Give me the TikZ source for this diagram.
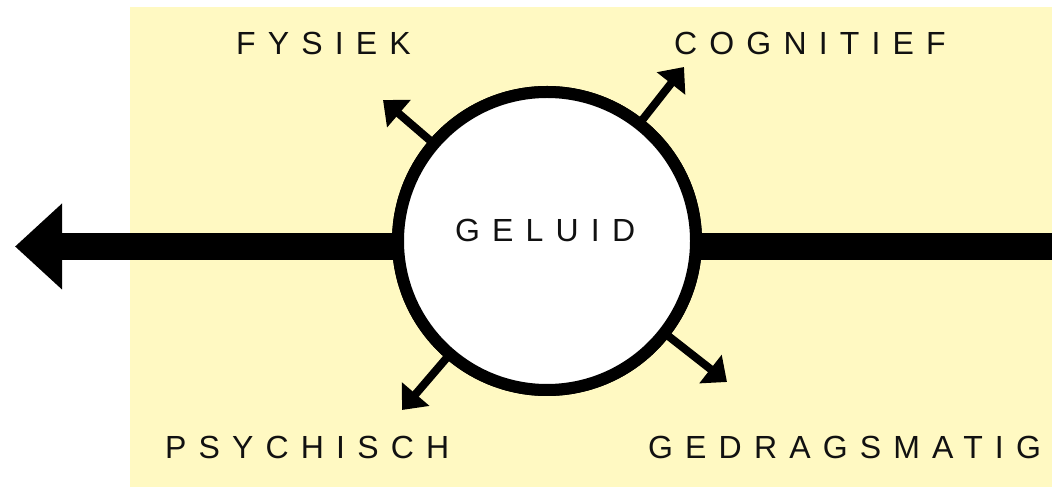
\documentclass[tikz,border=0pt]{standalone}
\usepackage{fontspec}
\usepackage{xcolor}
\usetikzlibrary{arrows.meta,positioning}
\newfontfamily\lblfont{Liberation Sans}[LetterSpace=38]
\definecolor{geel}{RGB}{255,249,194}
\definecolor{inkt}{RGB}{17,17,17}

\begin{document}
\begin{tikzpicture}[x=1pt,y=1pt,
    bol/.style={circle,draw=black,fill=white,line width=12pt,minimum size=298pt,inner sep=0pt,outer sep=0pt},
    tekst/.style={anchor=base west,inner sep=0pt,text=inkt,font=\lblfont\fontsize{32}{38}\selectfont},
    dik/.style={line width=27pt,-{Triangle[length=47pt,width=83pt]}},
    pijl/.style={line width=8pt,-{Triangle[length=21pt,width=35pt]}}]
            \useasboundingbox (0,0) rectangle (1052,487);
            \fill [geel] (130,0) rectangle (1052,480);
            \coordinate (links) at (15,240.5);
            \coordinate (rechts) at (1052,240.5);
            \node [bol] (geluid) at (547,246) {};
            \draw [line width=27pt] (geluid.east |- rechts) -- (rechts);
            \draw [dik] (geluid.west |- links) -- (links);
            % pijlpunten rond de bol
            \coordinate (fys) at (383,387);
            \coordinate (cog) at (684,420);
            \coordinate (psy) at (402,77);
            \coordinate (ged) at (727,105);
            \draw [pijl] (geluid) -- (fys);
            \draw [pijl] (geluid) -- (cog);
            \draw [pijl] (geluid) -- (psy);
            \draw [pijl] (geluid) -- (ged);
            \node [bol] at (geluid) {};
            % teksten
            \node [tekst] (geluidtxt) at (455,245) {GELUID};
            \node [tekst] (fysiek) at (236,432) {FYSIEK};
            \node [tekst] (cognitief) at (674,432) {COGNITIEF};
            \node [tekst] (psychisch) at (165,28) {PSYCHISCH};
            \node [tekst] (gedrag) at (648,28) {GEDRAGSMATIG};
\end{tikzpicture}
\end{document}
